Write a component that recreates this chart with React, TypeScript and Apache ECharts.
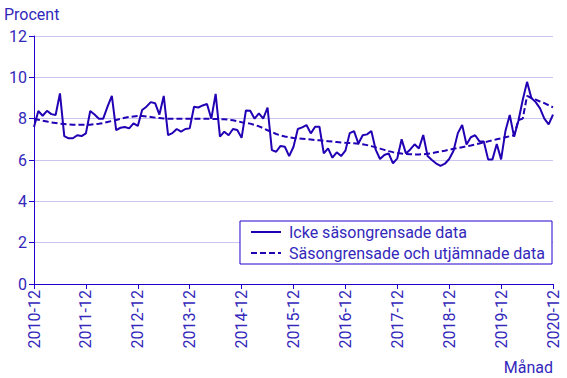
import React, { useEffect, useRef } from "react";
import * as echarts from "echarts";

const startYear = 2010;
const months: string[] = [];
for (let i = 0; i <= 120; i++) {
  const m = (11 + i) % 12;
  const y = startYear + Math.floor((11 + i) / 12);
  months.push(`${y}-${String(m + 1).padStart(2, "0")}`);
}

const rawSeries: number[] = [
  7.6, 8.37, 8.14, 8.38, 8.22, 8.18, 9.22, 7.16, 7.05, 7.05, 7.2, 7.16,
  7.29, 8.37, 8.2, 8.0, 8.0, 8.58, 9.1, 7.45, 7.56, 7.6, 7.53, 7.77,
  7.65, 8.42, 8.58, 8.8, 8.75, 8.2, 9.1, 7.2, 7.3, 7.5, 7.37, 7.5,
  7.53, 8.58, 8.54, 8.64, 8.71, 8.0, 9.2, 7.13, 7.37, 7.2, 7.5, 7.45,
  7.07, 8.4, 8.38, 8.0, 8.26, 8.0, 8.54, 6.48, 6.4, 6.68, 6.64, 6.19,
  6.64, 7.5, 7.58, 7.69, 7.29, 7.61, 7.61, 6.32, 6.56, 6.11, 6.37, 6.19,
  6.45, 7.3, 7.4, 6.8, 7.2, 7.24, 7.4, 6.5, 6.05, 6.24, 6.32, 5.84,
  6.08, 7.0, 6.32, 6.51, 6.76, 6.56, 7.21, 6.19, 6.0, 5.83, 5.72, 5.82,
  6.05, 6.45, 7.3, 7.69, 6.75, 7.1, 7.2, 6.9, 6.89, 6.03, 6.03, 6.77,
  6.03, 7.4, 8.18, 7.13, 7.9, 8.9, 9.78, 9.0, 8.8, 8.5, 8.0, 7.72,
  8.2,
];

const smoothSeries: number[] = [
  8.0, 7.95, 7.9, 7.86, 7.82, 7.79, 7.76, 7.74, 7.72, 7.71, 7.7, 7.7,
  7.7, 7.71, 7.73, 7.75, 7.79, 7.84, 7.89, 7.94, 7.99, 8.04, 8.08, 8.11,
  8.13, 8.13, 8.11, 8.08, 8.05, 8.03, 8.01, 8.0, 8.0, 8.0, 8.0, 8.0,
  8.0, 8.0, 8.0, 8.0, 7.99, 7.99, 7.98, 7.98, 7.97, 7.95, 7.92, 7.88,
  7.83, 7.8, 7.76, 7.7, 7.63, 7.54, 7.44, 7.35, 7.26, 7.19, 7.14, 7.1,
  7.07, 7.05, 7.03, 7.01, 6.99, 6.97, 6.95, 6.93, 6.91, 6.89, 6.87, 6.85,
  6.83, 6.82, 6.81, 6.79, 6.76, 6.72, 6.67, 6.61, 6.55, 6.49, 6.43, 6.38,
  6.34, 6.31, 6.29, 6.28, 6.27, 6.27, 6.28, 6.3, 6.33, 6.37, 6.41, 6.45,
  6.5, 6.54, 6.58, 6.62, 6.66, 6.7, 6.75, 6.8, 6.85, 6.9, 6.95, 7.0,
  7.05, 7.1, 7.15, 7.2, 7.93, 8.0, 9.1, 9.0, 8.92, 8.83, 8.75, 8.65,
  8.55,
];

const seriesNames = ["Icke säsongrensade data", "Säsongrensade och utjämnade data"];
const yAxisName = "Procent";
const xAxisName = "Månad";

const LINE = "#2200b4";
const TEXT = "#3328bb";
const AXIS = "#2200cc";
const GRID = "#c9c6f0";
const FONT = "Roboto, 'Liberation Sans', Arial, sans-serif";

export default function App() {
  const ref = useRef<HTMLDivElement>(null);
  useEffect(() => {
    if (!ref.current) return;
    const chart = echarts.init(ref.current, undefined, { renderer: "svg" });
    chart.setOption({
      animation: false,
      textStyle: { fontFamily: FONT },
      grid: { left: 34, right: 14, top: 36, bottom: 94, containLabel: false },
      legend: {
        orient: "vertical",
        right: 15,
        top: 221,
        itemWidth: 30,
        itemHeight: 14,
        itemGap: 5,
        padding: [3, 7, 3, 10],
        borderColor: AXIS,
        borderWidth: 1,
        backgroundColor: "#ffffff",
        itemStyle: { opacity: 0 },
        textStyle: { color: TEXT, fontSize: 16, fontFamily: FONT, padding: [0, 0, 0, 3] },
        data: seriesNames,
      },
      xAxis: {
        type: "category",
        data: months,
        boundaryGap: false,
        name: xAxisName,
        nameLocation: "end",
        nameGap: 0,
        nameTextStyle: {
          color: TEXT,
          fontSize: 16,
          align: "right",
          verticalAlign: "top",
          padding: [75, 0, 0, 0],
        },
        axisLine: { lineStyle: { color: AXIS, width: 1 } },
        axisTick: { show: true, interval: 11, length: 5, lineStyle: { color: AXIS } },
        axisLabel: {
          interval: 11,
          rotate: 90,
          color: TEXT,
          fontSize: 16,
          margin: 6,
        },
        splitLine: { show: false },
      },
      yAxis: {
        type: "value",
        min: 0,
        max: 12,
        interval: 2,
        name: yAxisName,
        nameLocation: "end",
        nameGap: 14,
        nameTextStyle: { color: TEXT, fontSize: 16, align: "left", padding: [0, 0, 0, -30] },
        axisLine: { show: true, lineStyle: { color: AXIS, width: 1 } },
        axisTick: { show: true, length: 5, lineStyle: { color: AXIS } },
        axisLabel: { color: TEXT, fontSize: 16, margin: 7 },
        splitLine: { show: true, lineStyle: { color: GRID, width: 1 } },
      },
      series: [
        {
          name: seriesNames[0],
          type: "line",
          data: rawSeries,
          symbol: "none",
          lineStyle: { color: LINE, width: 2 },
          itemStyle: { color: LINE },
        },
        {
          name: seriesNames[1],
          type: "line",
          data: smoothSeries,
          symbol: "none",
          lineStyle: { color: LINE, width: 2, type: [6, 3] },
          itemStyle: { color: LINE },
        },
      ],
    });
    return () => chart.dispose();
  }, []);
  return <div ref={ref} style={{ width: 567, height: 378, position: "absolute", left: 0, top: 0 }} />;
}
